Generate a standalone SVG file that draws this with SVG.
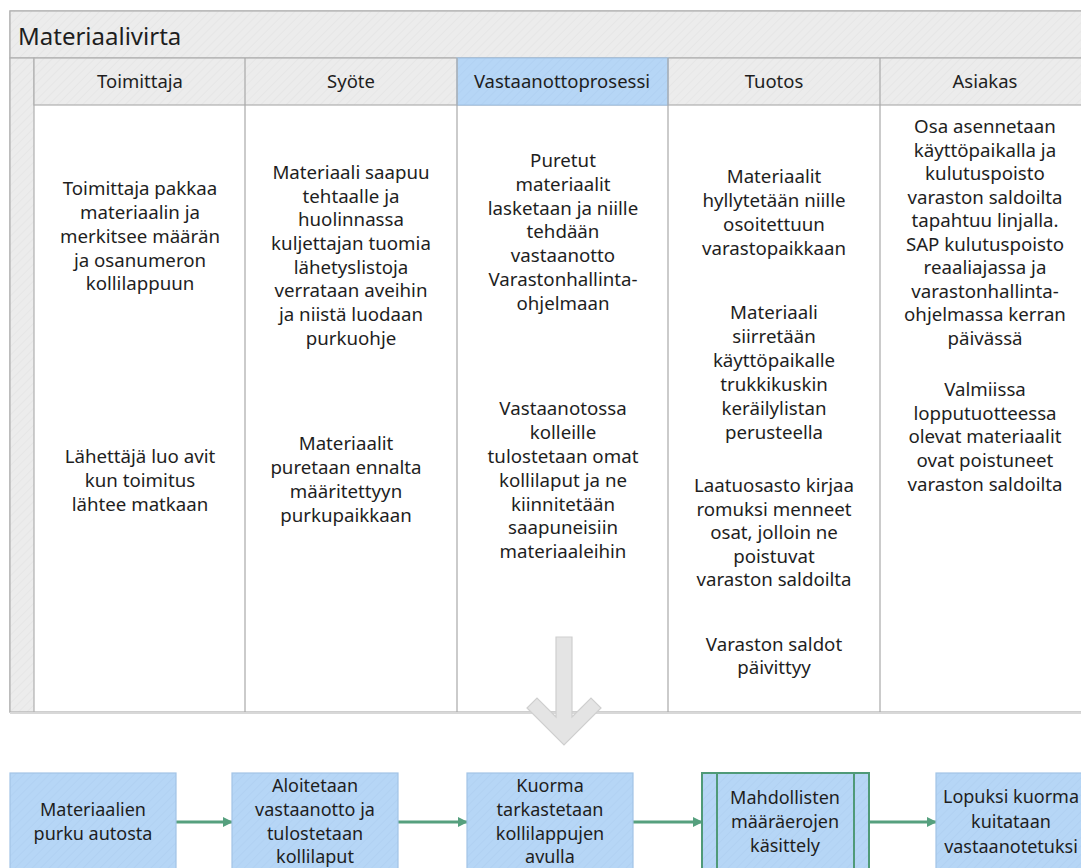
<svg xmlns="http://www.w3.org/2000/svg" width="1081" height="868" viewBox="0 0 1081 868">
<defs>
<style>
.t{font-family:"Noto Sans","Open Sans","DejaVu Sans",sans-serif;fill:#1e1e1e;text-anchor:middle}
.c{font-size:18.7px}
.h{font-size:18.5px}
.b{font-size:18px}
.ttl{font-family:"Noto Sans","Open Sans","DejaVu Sans",sans-serif;fill:#1e1e1e;font-size:24px}
.line{stroke:#a8a8a8;stroke-width:1.2;fill:none}
.box{stroke:#a2c4e6;stroke-width:1.2}
.conn{stroke:#56a07e;stroke-width:3;fill:none}
</style>
<pattern id="hatch" width="6" height="6" patternUnits="userSpaceOnUse" patternTransform="rotate(45)">
<rect width="6" height="6" fill="#ececec"/>
<line x1="0" y1="0" x2="0" y2="6" stroke="#e6e6e6" stroke-width="2"/>
</pattern>
<pattern id="hatchb" width="6" height="6" patternUnits="userSpaceOnUse" patternTransform="rotate(45)">
<rect width="6" height="6" fill="#b6d6f6"/>
<line x1="0" y1="0" x2="0" y2="6" stroke="#b1d1f2" stroke-width="2"/>
</pattern>
<marker id="ah" markerWidth="10" markerHeight="10" refX="9" refY="5" orient="auto" markerUnits="userSpaceOnUse">
<path d="M0,0 L10,5 L0,10 Z" fill="#56a07e"/>
</marker>
</defs>
<rect width="1081" height="868" fill="#ffffff"/>

<g id="swimlane">
<rect x="10" y="11" width="1090" height="701" fill="#ffffff" stroke="#b0b0b0" stroke-width="1.2"/>
<rect x="10" y="11" width="1090" height="47" fill="url(#hatch)" stroke="#b0b0b0" stroke-width="1.2"/>
<text class="ttl" x="18" y="45">Materiaalivirta</text>
<rect x="10" y="58" width="24" height="654" fill="url(#hatch)" stroke="#b0b0b0" stroke-width="1.2"/>
<rect x="34" y="58" width="1066" height="47" fill="url(#hatch)" stroke="#b0b0b0" stroke-width="1.2"/>
<rect x="457" y="58" width="211" height="47" fill="url(#hatchb)" stroke="#a2c4e6" stroke-width="1.2"/>
<line class="line" x1="245" y1="58" x2="245" y2="712"/>
<line class="line" x1="457" y1="58" x2="457" y2="712"/>
<line class="line" x1="668" y1="58" x2="668" y2="712"/>
<line class="line" x1="880" y1="58" x2="880" y2="712"/>
<line x1="10" y1="713" x2="1081" y2="713" stroke="#d8d8d8" stroke-width="2"/>
</g>

<g id="headers">
<text class="t h" x="140" y="88">Toimittaja</text>
<text class="t h" x="351" y="88">Syöte</text>
<text class="t h" x="562" y="88">Vastaanottoprosessi</text>
<text class="t h" x="774" y="88">Tuotos</text>
<text class="t h" x="985" y="88">Asiakas</text>
</g>

<g id="toimittaja">
<text class="t c"><tspan x="140" y="195">Toimittaja pakkaa</tspan><tspan x="140" y="219">materiaalin ja</tspan><tspan x="140" y="243">merkitsee määrän</tspan><tspan x="140" y="267">ja osanumeron</tspan><tspan x="140" y="290">kollilappuun</tspan></text>
<text class="t c"><tspan x="140" y="463">Lähettäjä luo avit</tspan><tspan x="140" y="487">kun toimitus</tspan><tspan x="140" y="511">lähtee matkaan</tspan></text>
</g>

<g id="syote">
<text class="t c"><tspan x="351" y="179">Materiaali saapuu</tspan><tspan x="351" y="203">tehtaalle ja</tspan><tspan x="351" y="226">huolinnassa</tspan><tspan x="351" y="250">kuljettajan tuomia</tspan><tspan x="351" y="274">lähetyslistoja</tspan><tspan x="351" y="297">verrataan aveihin</tspan><tspan x="351" y="321">ja niistä luodaan</tspan><tspan x="351" y="345">purkuohje</tspan></text>
<text class="t c"><tspan x="346" y="450">Materiaalit</tspan><tspan x="346" y="474">puretaan ennalta</tspan><tspan x="346" y="498">määritettyyn</tspan><tspan x="346" y="522">purkupaikkaan</tspan></text>
</g>

<g id="vastaanottoprosessi">
<text class="t c"><tspan x="563" y="167">Puretut</tspan><tspan x="563" y="191">materiaalit</tspan><tspan x="563" y="215">lasketaan ja niille</tspan><tspan x="563" y="238">tehdään</tspan><tspan x="563" y="262">vastaanotto</tspan><tspan x="563" y="286">Varastonhallinta-</tspan><tspan x="563" y="310">ohjelmaan</tspan></text>
<text class="t c"><tspan x="563" y="415">Vastaanotossa</tspan><tspan x="563" y="439">kolleille</tspan><tspan x="563" y="463">tulostetaan omat</tspan><tspan x="563" y="487">kollilaput ja ne</tspan><tspan x="563" y="511">kiinnitetään</tspan><tspan x="563" y="534">saapuneisiin</tspan><tspan x="563" y="558">materiaaleihin</tspan></text>
</g>

<g id="tuotos">
<text class="t c"><tspan x="774" y="183">Materiaalit</tspan><tspan x="774" y="207">hyllytetään niille</tspan><tspan x="774" y="231">osoitettuun</tspan><tspan x="774" y="255">varastopaikkaan</tspan></text>
<text class="t c"><tspan x="774" y="319">Materiaali</tspan><tspan x="774" y="343">siirretään</tspan><tspan x="774" y="367">käyttöpaikalle</tspan><tspan x="774" y="391">trukkikuskin</tspan><tspan x="774" y="415">keräilylistan</tspan><tspan x="774" y="439">perusteella</tspan></text>
<text class="t c"><tspan x="774" y="492">Laatuosasto kirjaa</tspan><tspan x="774" y="516">romuksi menneet</tspan><tspan x="774" y="539">osat, jolloin ne</tspan><tspan x="774" y="563">poistuvat</tspan><tspan x="774" y="586">varaston saldoilta</tspan></text>
<text class="t c"><tspan x="774" y="651">Varaston saldot</tspan><tspan x="774" y="674">päivittyy</tspan></text>
</g>

<g id="asiakas">
<text class="t c"><tspan x="985" y="133">Osa asennetaan</tspan><tspan x="985" y="157">käyttöpaikalla ja</tspan><tspan x="985" y="180">kulutuspoisto</tspan><tspan x="985" y="204">varaston saldoilta</tspan><tspan x="985" y="227">tapahtuu linjalla.</tspan><tspan x="985" y="251">SAP kulutuspoisto</tspan><tspan x="985" y="274">reaaliajassa ja</tspan><tspan x="985" y="298">varastonhallinta-</tspan><tspan x="985" y="321">ohjelmassa kerran</tspan><tspan x="985" y="345">päivässä</tspan></text>
<text class="t c"><tspan x="985" y="396">Valmiissa</tspan><tspan x="985" y="420">lopputuotteessa</tspan><tspan x="985" y="443">olevat materiaalit</tspan><tspan x="985" y="467">ovat poistuneet</tspan><tspan x="985" y="491">varaston saldoilta</tspan></text>
</g>

<g id="down-arrow">
<polygon points="556,637 572,637 572,717 591,698 601,708 564,745 527,708 537,698 556,717" fill="#e4e4e4" stroke="#cfcfcf" stroke-width="1.2" stroke-linejoin="miter"/>
</g>

<g id="connectors">
<line class="conn" x1="176" y1="822" x2="232" y2="822" marker-end="url(#ah)"/>
<line class="conn" x1="398" y1="822" x2="467" y2="822" marker-end="url(#ah)"/>
<line class="conn" x1="633" y1="822" x2="702" y2="822" marker-end="url(#ah)"/>
<line class="conn" x1="869" y1="822" x2="936" y2="822" marker-end="url(#ah)"/>
</g>

<g id="box1">
<rect class="box" x="10" y="773" width="166" height="110" fill="url(#hatchb)"/>
<text class="t b"><tspan x="93" y="816">Materiaalien</tspan><tspan x="93" y="840">purku autosta</tspan></text>
</g>
<g id="box2">
<rect class="box" x="232" y="773" width="166" height="110" fill="url(#hatchb)"/>
<text class="t b"><tspan x="315" y="792">Aloitetaan</tspan><tspan x="315" y="816">vastaanotto ja</tspan><tspan x="315" y="840">tulostetaan</tspan><tspan x="315" y="863">kollilaput</tspan></text>
</g>
<g id="box3">
<rect class="box" x="467" y="773" width="166" height="110" fill="url(#hatchb)"/>
<text class="t b"><tspan x="550" y="792">Kuorma</tspan><tspan x="550" y="816">tarkastetaan</tspan><tspan x="550" y="840">kollilappujen</tspan><tspan x="550" y="863">avulla</tspan></text>
</g>
<g id="box4">
<rect x="702" y="773" width="167" height="110" fill="url(#hatchb)" stroke="#4f9a78" stroke-width="2"/>
<line x1="717" y1="773" x2="717" y2="883" stroke="#4f9a78" stroke-width="2"/>
<line x1="854" y1="773" x2="854" y2="883" stroke="#4f9a78" stroke-width="2"/>
<text class="t b"><tspan x="785" y="804">Mahdollisten</tspan><tspan x="785" y="828">määräerojen</tspan><tspan x="785" y="852">käsittely</tspan></text>
</g>
<g id="box5">
<rect class="box" x="936" y="773" width="166" height="110" fill="url(#hatchb)"/>
<text class="t b"><tspan x="1011" y="803">Lopuksi kuorma</tspan><tspan x="1011" y="828">kuitataan</tspan><tspan x="1011" y="853">vastaanotetuksi</tspan></text>
</g>
</svg>
